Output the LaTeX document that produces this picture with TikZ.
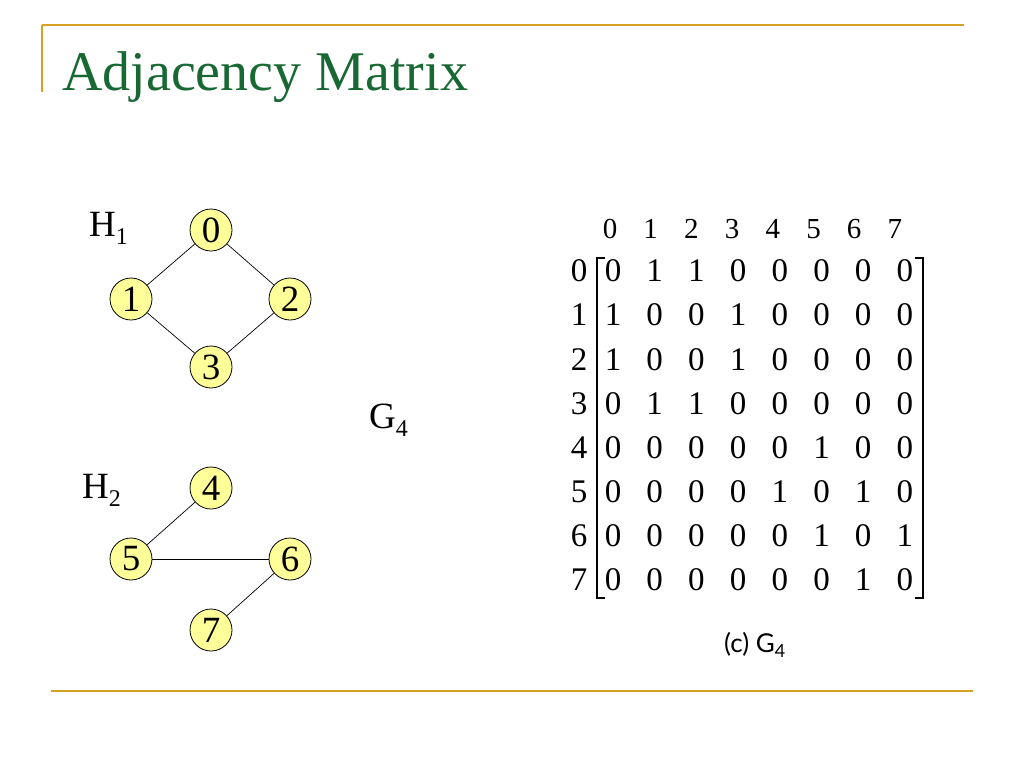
\documentclass[tikz,border=0pt]{standalone}
\usepackage{fontspec}
\setmainfont{Liberation Serif}
\newfontfamily\capfont{Lato}
\definecolor{gold}{RGB}{212,162,32}
\definecolor{titlegreen}{RGB}{24,104,52}
\definecolor{nodeyellow}{RGB}{255,255,153}
\tikzset{
  vtx/.style={circle, draw=black, line width=0.8pt, fill=nodeyellow, minimum size=42pt, inner sep=0pt, font=\fontsize{37}{37}\selectfont},
  edge/.style={draw=black, line width=0.7pt},
  lbl/.style={anchor=base west, inner sep=0pt, font=\fontsize{37}{37}\selectfont},
  hdr/.style={inner sep=0pt, font=\fontsize{29}{29}\selectfont},
  ent/.style={inner sep=0pt, font=\fontsize{33}{33}\selectfont},
  rule/.style={draw=gold, line width=2pt},
  brk/.style={draw=black, line width=1.1pt}
}
\newcommand{\mysub}[1]{\raisebox{-0.22em}{\fontsize{24}{24}\selectfont #1}}
\begin{document}
\begin{tikzpicture}[x=1pt,y=-1pt]
\useasboundingbox[fill=white] (0,0) rectangle (1024,768);
% decorations
\coordinate (t1) at (42,25);
\coordinate (t2) at (964,25);
\coordinate (v2) at (42,92);
\coordinate (b1) at (51,691);
\coordinate (b2) at (973,691);
\draw[rule] (t1) -- (t2);
\draw[rule] (t1) -- (v2);
\draw[rule] (b1) -- (b2);
% title
\node[anchor=base west, inner sep=0pt, text=titlegreen, font=\fontsize{56}{56}\selectfont] (title) at (62,90) {Adjacency Matrix};
% H1
\node[lbl] (h1) at (89,236) {H\mysub{1}};
\node[vtx] (n0) at (211,230) {0};
\node[vtx] (n1) at (131,299) {1};
\node[vtx] (n2) at (290,299) {2};
\node[vtx] (n3) at (211,367) {3};
\draw[edge] (n0) -- (n1);
\draw[edge] (n0) -- (n2);
\draw[edge] (n1) -- (n3);
\draw[edge] (n2) -- (n3);
% H2
\node[lbl] (h2) at (82,498) {H\mysub{2}};
\node[vtx] (n4) at (211,488) {4};
\node[vtx] (n5) at (131,559) {5};
\node[vtx] (n6) at (290,559) {6};
\node[vtx] (n7) at (211,630) {7};
\draw[edge] (n4) -- (n5);
\draw[edge] (n5) -- (n6);
\draw[edge] (n6) -- (n7);
% G4
\node[lbl] (g4) at (369,428) {G\mysub{4}};
% matrix headers
\foreach \j in {0,...,7} {
  \node[hdr] (hd\j) at ({610+40.7*\j},229) {\j};
}
% rows
\foreach \r/\vals in {0/{0,1,1,0,0,0,0,0},1/{1,0,0,1,0,0,0,0},2/{1,0,0,1,0,0,0,0},3/{0,1,1,0,0,0,0,0},4/{0,0,0,0,0,1,0,0},5/{0,0,0,0,1,0,1,0},6/{0,0,0,0,0,1,0,1},7/{0,0,0,0,0,0,1,0}} {
  \node[ent] (rl\r) at (579,{271+44.1*\r}) {\r};
  \foreach \v [count=\c from 0] in \vals {
    \node[ent] (m\r-\c) at ({613+41.7*\c},{271+44.1*\r}) {\v};
  }
}
% brackets
\coordinate (lb1) at (605,258);
\coordinate (lb2) at (597,258);
\coordinate (lb3) at (597,598);
\coordinate (lb4) at (605,598);
\coordinate (rb1) at (915,258);
\coordinate (rb2) at (923,258);
\coordinate (rb3) at (923,598);
\coordinate (rb4) at (915,598);
\draw[brk] (lb1) -- (lb2) -- (lb3) -- (lb4);
\draw[brk] (rb1) -- (rb2) -- (rb3) -- (rb4);
% caption
\node[anchor=base west, inner sep=0pt, font=\capfont\fontsize{26}{26}\selectfont] (cap) at (724,652) {(c) G\raisebox{-0.2em}{\fontsize{18}{18}\selectfont 4}};
\end{tikzpicture}
\end{document}
